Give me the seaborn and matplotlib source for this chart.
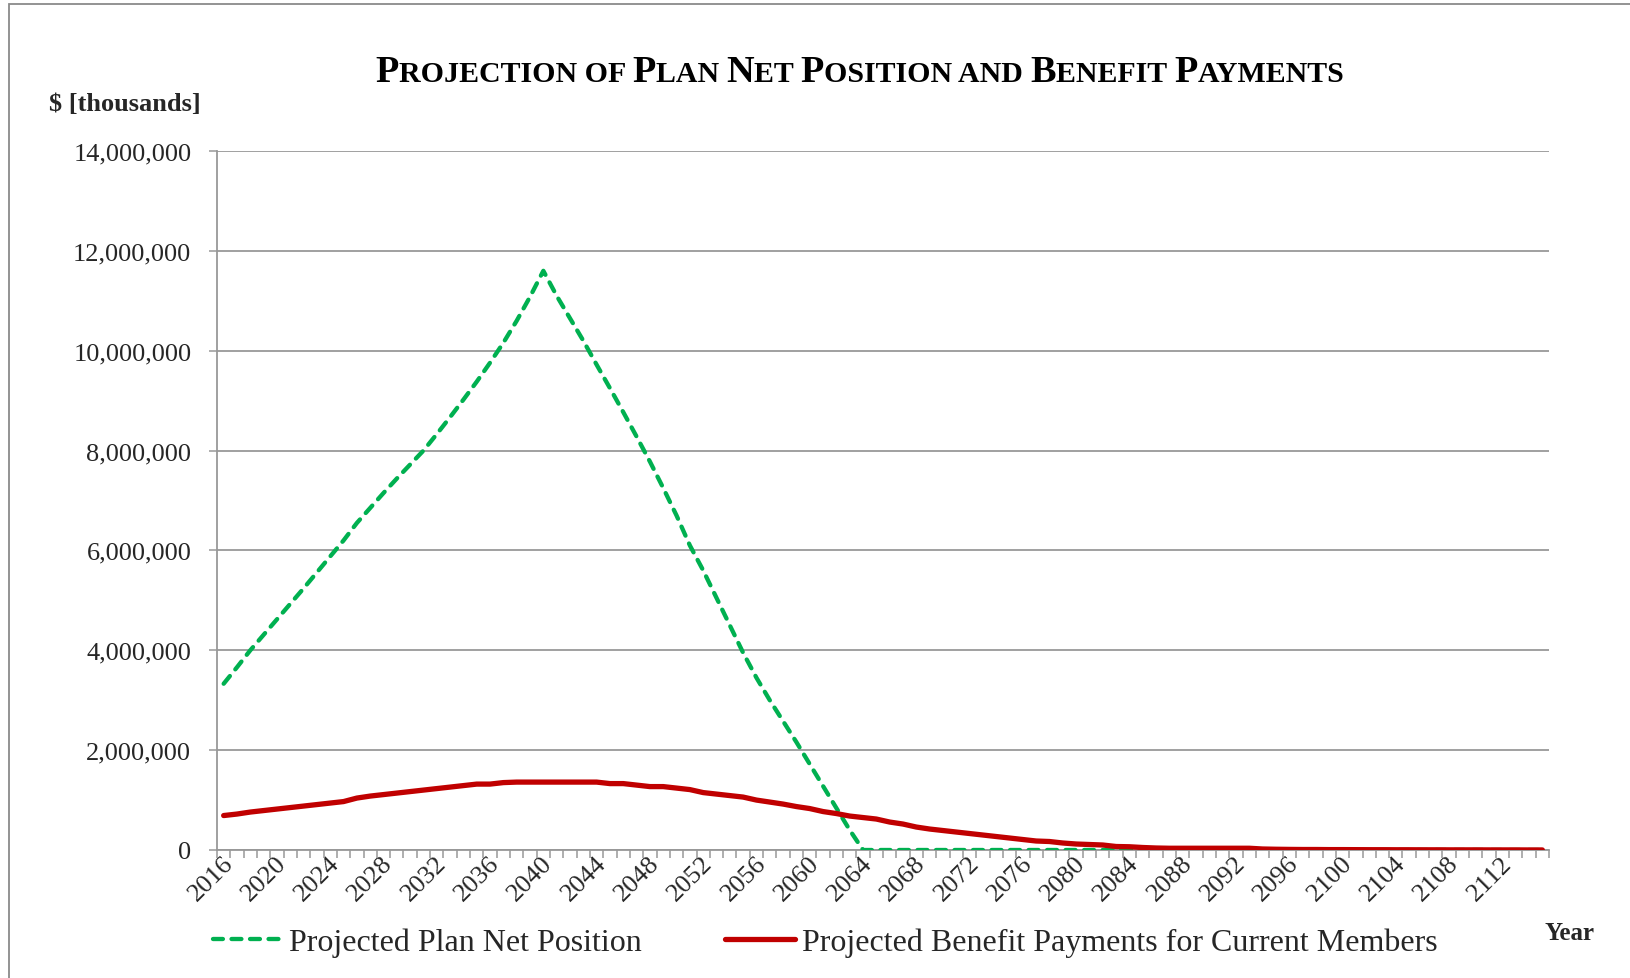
import numpy as np
import pandas as pd
import matplotlib
matplotlib.use("Agg")
import matplotlib.pyplot as plt
import matplotlib.transforms as mtransforms
from matplotlib.ticker import FuncFormatter, FixedLocator
from matplotlib.offsetbox import TextArea, HPacker, AnnotationBbox
from matplotlib.patches import Rectangle
import seaborn as sns

# ---------------- data ($ thousands, values written in millions of thousands) ----------------
years = list(range(2016, 2116))

net_position_m = [
    3.33, 3.66, 4.00, 4.31, 4.62, 4.93, 5.24, 5.56, 5.88, 6.20,   # 2016-2025
    6.55, 6.85, 7.15, 7.44, 7.72, 8.00, 8.33, 8.67, 9.02, 9.38,   # 2026-2035
    9.76, 10.16, 10.60, 11.08, 11.60, 11.10, 10.65, 10.20, 9.72, 9.25,  # 2036-2045
    8.77, 8.28, 7.78, 7.25, 6.70, 6.10, 5.60, 5.05, 4.50, 3.95,   # 2046-2055
    3.45, 3.00, 2.58, 2.16, 1.72, 1.28, 0.84, 0.40, 0.00, 0.00,   # 2056-2065
    0.00, 0.00, 0.00, 0.00, 0.00, 0.00, 0.00, 0.00, 0.00, 0.00,   # 2066-2075
    0.00, 0.00, 0.00, 0.00, 0.00, 0.00, 0.00, 0.00, 0.00, 0.00,   # 2076-2085
    0.00, 0.00, 0.00, 0.00, 0.00, 0.00, 0.00, 0.00, 0.00, 0.00,   # 2086-2095
    0.00, 0.00, 0.00, 0.00, 0.00, 0.00, 0.00, 0.00, 0.00, 0.00,   # 2096-2105
    0.00, 0.00, 0.00, 0.00, 0.00, 0.00, 0.00, 0.00, 0.00, 0.00,   # 2106-2115
]

benefit_payments_m = [
    0.69, 0.72, 0.76, 0.79, 0.82, 0.85, 0.88, 0.91, 0.94, 0.97,   # 2016-2025
    1.04, 1.08, 1.11, 1.14, 1.17, 1.20, 1.23, 1.26, 1.29, 1.32,   # 2026-2035
    1.32, 1.35, 1.36, 1.36, 1.36, 1.36, 1.36, 1.36, 1.36, 1.33,   # 2036-2045
    1.33, 1.30, 1.27, 1.27, 1.24, 1.21, 1.15, 1.12, 1.09, 1.06,   # 2046-2055
    1.00, 0.96, 0.92, 0.87, 0.83, 0.77, 0.73, 0.68, 0.65, 0.62,   # 2056-2065
    0.56, 0.52, 0.46, 0.42, 0.39, 0.36, 0.33, 0.30, 0.27, 0.24,   # 2066-2075
    0.21, 0.18, 0.17, 0.14, 0.12, 0.11, 0.10, 0.07, 0.065, 0.05,  # 2076-2085
    0.04, 0.035, 0.035, 0.035, 0.035, 0.035, 0.035, 0.035, 0.02, 0.015,  # 2086-2095
    0.012, 0.010, 0.010, 0.008, 0.008, 0.007, 0.006, 0.006, 0.005, 0.005,  # 2096-2105
    0.004, 0.004, 0.003, 0.003, 0.003, 0.002, 0.002, 0.002, 0.001, 0.001,  # 2106-2115
]

net_position = [v * 1_000_000 for v in net_position_m]
benefit_payments = [v * 1_000_000 for v in benefit_payments_m]

series_net = "Projected Plan Net Position"
series_ben = "Projected Benefit Payments for Current Members"
title_parts = [("P", "L"), ("ROJECTION OF ", "S"), ("P", "L"), ("LAN ", "S"), ("N", "L"),
               ("ET ", "S"), ("P", "L"), ("OSITION AND ", "S"), ("B", "L"), ("ENEFIT ", "S"),
               ("P", "L"), ("AYMENTS", "S")]
y_label = "$ [thousands]"
x_label = "Year"
y_ticks = [0, 2_000_000, 4_000_000, 6_000_000, 8_000_000, 10_000_000, 12_000_000, 14_000_000]
x_label_years = list(range(2016, 2113, 4))

df = pd.DataFrame({"year": years, "net": net_position, "ben": benefit_payments})

# ---------------- style ----------------
sns.set_theme(style="white")
SERIF = ["Liberation Serif", "DejaVu Serif"]
plt.rcParams["font.family"] = SERIF

W, H = 1631, 979
fig = plt.figure(figsize=(W / 100, H / 100), dpi=100)
ax = fig.add_axes([217 / W, 128 / H, (1549 - 217) / W, (851 - 152) / H])

GREEN = "#00B050"
RED = "#C00000"
GRID = "#989898"

sns.lineplot(data=df, x="year", y="net", ax=ax, color=GREEN, linewidth=3.1,
             linestyle=(0, (2.3, 2.0)), label=series_net, zorder=3)
sns.lineplot(data=df, x="year", y="ben", ax=ax, color=RED, linewidth=3.8,
             label=series_ben, zorder=4)
for ln in ax.get_lines():
    ln.set_dash_capstyle("round")
    ln.set_solid_capstyle("round")

ax.set_xlim(2015.5, 2115.5)
ax.set_ylim(0, 14_000_000)
ax.set_yticks(y_ticks)
ax.yaxis.set_major_formatter(FuncFormatter(lambda v, p: f"{int(v):,}"))
ax.grid(axis="y", color=GRID, linewidth=1.3)
ax.set_axisbelow(True)

# x axis: labels at category centres, tick marks at category boundaries
ax.xaxis.set_major_locator(FixedLocator(x_label_years))
ax.set_xticklabels([str(y) for y in x_label_years])
ax.xaxis.set_minor_locator(FixedLocator(np.arange(2015.5, 2116.0, 1.0)))
ax.tick_params(axis="x", which="major", length=0, pad=7, labelsize=19)
ax.tick_params(axis="x", which="minor", length=6, width=1.1, color=GRID, direction="out", bottom=True)
ax.tick_params(axis="y", which="major", length=5.5, width=1.1, color=GRID, direction="out",
               left=True, pad=13, labelsize=19)
offset = mtransforms.ScaledTranslation(6 / 100, 0, fig.dpi_scale_trans)
for lab in ax.get_xticklabels():
    lab.set_rotation(45)
    lab.set_ha("right")
    lab.set_va("center")
    lab.set_rotation_mode("anchor")
    lab.set_transform(lab.get_transform() + offset)

for s in ["top", "right"]:
    ax.spines[s].set_visible(False)
for s in ["left", "bottom"]:
    ax.spines[s].set_color(GRID)
    ax.spines[s].set_linewidth(1.3)
ax.set_xlabel("")
ax.set_ylabel("")

# legend
handles, labels = ax.get_legend_handles_labels()
ax.get_legend().remove()
fig.legend(handles, labels, loc="center", bbox_to_anchor=(825 / W, 1 - 943 / H), ncol=2,
           frameon=False, fontsize=23, handlelength=2.2, handletextpad=0.2,
           columnspacing=2.6, borderaxespad=0)

# title with small caps
children = []
for txt, kind in title_parts:
    size = 27.5 if kind == "L" else 21.5
    children.append(TextArea(txt, textprops=dict(fontsize=size, fontweight="bold",
                                                  family=SERIF, color="black")))
pack = HPacker(children=children, align="baseline", pad=0, sep=0)
ab = AnnotationBbox(pack, (860 / W, 1 - 72 / H), xycoords="figure fraction",
                    frameon=False, box_alignment=(0.5, 0.5), annotation_clip=False)
fig.add_artist(ab)

fig.text(49 / W, 1 - 104 / H, y_label, fontsize=19, fontweight="bold", ha="left", va="center")
fig.text(1545 / W, 1 - 934 / H, x_label, fontsize=18, fontweight="bold", ha="left", va="center")

# chart outline
fig.patches.append(Rectangle((9 / W, -0.02), 1.2, 1 - 5 / H + 0.02, transform=fig.transFigure,
                             fill=False, edgecolor="#8a8a8a", linewidth=1.3))

fig.savefig("out.png", dpi=100)
